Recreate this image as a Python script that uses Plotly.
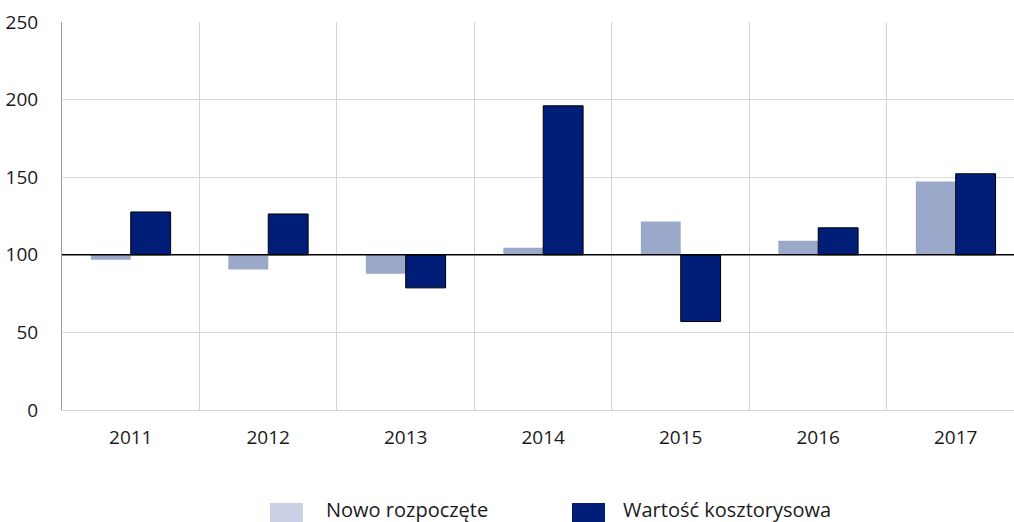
import plotly.graph_objects as go

years = ["2011", "2012", "2013", "2014", "2015", "2016", "2017"]
nowo = [96.8, 90.5, 87.8, 104.5, 121.5, 109.0, 147.2]
wartosc = [127.6, 126.3, 78.7, 196.0, 57.0, 117.4, 152.2]
series_names = ["Nowo rozpoczęte", "Wartość kosztorysowa"]
y_ticks = [0, 50, 100, 150, 200, 250]
BASE = 100

light = "#9AA8C9"
light_legend = "#C9D0E4"
dark = "#001E78"
font_family = "Open Sans, Noto Sans, sans-serif"

fig = go.Figure()
fig.add_trace(go.Bar(
    x=years, y=[v - BASE for v in nowo], base=BASE, name=series_names[0],
    marker=dict(color=light, line=dict(width=0)), showlegend=False))
fig.add_trace(go.Bar(
    x=years, y=[v - BASE for v in wartosc], base=BASE, name=series_names[1],
    marker=dict(color=dark, line=dict(color="#000000", width=1)), showlegend=False))

# baseline at 100
fig.add_shape(type="line", xref="paper", x0=0, x1=1, yref="y", y0=BASE, y1=BASE,
              line=dict(color="#000000", width=1.5), layer="above")

# custom legend (large swatches)
W, H = 952.0, 388.0
def px_x(p):
    return (p - 62) / W
def px_y(p):
    return (410 - p) / H

legend_items = [(270, 325, light_legend, series_names[0]),
                (572, 622, dark, series_names[1])]
for sx, tx, col, name in legend_items:
    fig.add_shape(type="rect", xref="paper", yref="paper",
                  x0=px_x(sx), x1=px_x(sx + 33), y0=px_y(503), y1=px_y(530),
                  fillcolor=col, line=dict(width=0))
    fig.add_annotation(xref="paper", yref="paper", x=px_x(tx), y=px_y(509),
                       text=name, showarrow=False, xanchor="left", yanchor="middle",
                       borderpad=0,
                       font=dict(size=20, color="#1a1a1a", family=font_family))

fig.update_layout(
    width=1014, height=522,
    margin=dict(l=62, r=0, t=22, b=112, autoexpand=False),
    paper_bgcolor="white", plot_bgcolor="white",
    barmode="group", bargap=0.42, bargroupgap=0,
    font=dict(family=font_family, size=19, color="#1a1a1a"),
    showlegend=False,
)
fig.update_xaxes(
    type="category", range=[-0.5, 6.424], automargin=False,
    tickson="boundaries", showgrid=True, gridcolor="#d4d4d4", gridwidth=1,
    ticks="", ticklabelstandoff=10,
    showline=True, linecolor="#d4d4d4", linewidth=1,
    tickfont=dict(size=19), zeroline=False,
)
fig.update_yaxes(
    range=[0, 250], tickvals=y_ticks, automargin=False,
    showgrid=True, gridcolor="#d9d9d9", gridwidth=1,
    ticks="outside", ticklen=19, tickcolor="rgba(0,0,0,0)",
    showline=True, linecolor="#9a9a9a", linewidth=1, zeroline=False,
    tickfont=dict(size=19),
)

fig.write_html("out.html", config={"displayModeBar": False},
               post_script="document.body.style.margin='0';document.body.style.padding='0';")
